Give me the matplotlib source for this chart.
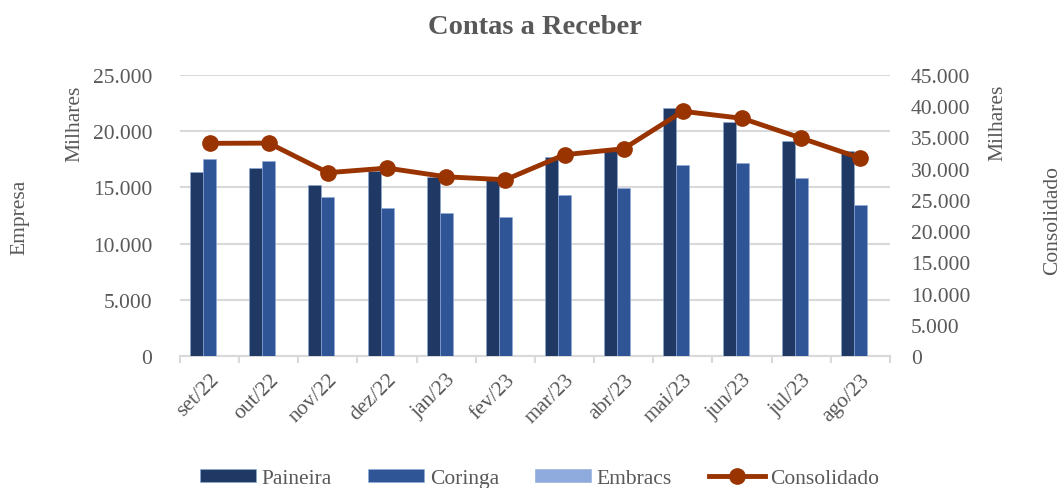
"""Contas a Receber: bars per company (left axis) and consolidated line (right axis)."""

import matplotlib

matplotlib.use("Agg")
import matplotlib.pyplot as plt
import numpy as np
from matplotlib.ticker import FuncFormatter

months = [
    "set/22", "out/22", "nov/22", "dez/22", "jan/23", "fev/23",
    "mar/23", "abr/23", "mai/23", "jun/23", "jul/23", "ago/23",
]
# values in thousands (Milhares)
paineira = [16350, 16750, 15190, 16500, 15900, 15690, 17730, 18200, 22090, 20790, 19100, 18200]
coringa = [17530, 17350, 14120, 13170, 12720, 12340, 14350, 14950, 17020, 17170, 15810, 13430]
embracs = [0, 0, 0, 0, 0, 0, 0, 0, 0, 0, 0, 0]
consolidado = [34060, 34100, 29360, 30100, 28700, 28230, 32240, 33200, 39190, 38070, 34900, 31700]

TEXT = "#595959"
GRID = "#D9D9D9"
COLORS = {"Paineira": "#1F3864", "Coringa": "#2F5597", "Embracs": "#8FAADC"}
LINE = "#993300"
FAMILY = ["Liberation Serif", "DejaVu Serif"]
SIZE = 15.5

plt.rcParams["font.family"] = FAMILY
plt.rcParams["font.size"] = SIZE


def thousands(value, _pos):
    return f"{value:,.0f}".replace(",", ".")


def main() -> None:
    fig = plt.figure(figsize=(10.62, 4.89), dpi=100)
    ax = fig.add_axes([0.1695, 0.2699, 0.6685, 0.5746])
    ax2 = ax.twinx()

    x = np.arange(len(months))
    width = 0.22
    series = [("Paineira", paineira), ("Coringa", coringa), ("Embracs", embracs)]
    for offset, (name, values) in zip((-1, 0, 1), series):
        ax.bar(x + offset * width, values, width, color=COLORS[name],
               edgecolor="#8FAADC", linewidth=0.4, label=name, zorder=3)

    ax2.plot(x, consolidado, color=LINE, linewidth=3.5, marker="o",
             markersize=11, label="Consolidado", zorder=4)

    ax.set_xlim(-0.5, len(months) - 0.5)
    ax.set_ylim(0, 25000)
    ax.set_yticks(np.arange(0, 25001, 5000))
    ax2.set_ylim(0, 45000)
    ax2.set_yticks(np.arange(0, 45001, 5000))
    ax.yaxis.set_major_formatter(FuncFormatter(thousands))
    ax2.yaxis.set_major_formatter(FuncFormatter(thousands))

    ax.set_xticks(x)
    ax.set_xticklabels(months, rotation=45, ha="right", rotation_mode="anchor")
    ax.set_xticks(np.arange(-0.5, len(months), 1.0), minor=True)
    ax.tick_params(axis="x", which="major", length=0, pad=10, colors=TEXT)
    ax.tick_params(axis="x", which="minor", length=5, color=GRID, width=1.5)
    ax.tick_params(axis="y", length=0, pad=20, colors=TEXT)
    ax2.tick_params(axis="y", length=0, pad=15, colors=TEXT)

    ax.grid(axis="y", color=GRID, linewidth=1.5, zorder=0)
    for spine in ("top", "left", "right"):
        ax.spines[spine].set_visible(False)
        ax2.spines[spine].set_visible(False)
    ax.spines["bottom"].set_color(GRID)
    ax.spines["bottom"].set_linewidth(1.5)
    ax2.spines["bottom"].set_visible(False)

    fig.text(0.0705, 0.746, "Milhares", rotation=90, ha="center", va="center", color=TEXT)
    fig.text(0.019, 0.556, "Empresa", rotation=90, ha="center", va="center", color=TEXT)
    fig.text(0.94, 0.748, "Milhares", rotation=90, ha="center", va="center", color=TEXT)
    fig.text(0.991, 0.55, "Consolidado", rotation=90, ha="center", va="center", color=TEXT)

    fig.text(0.504, 0.944, "Contas a Receber", ha="center", va="center",
             fontsize=20.5, fontweight="bold", color=TEXT)

    handles, labels = ax.get_legend_handles_labels()
    h2, l2 = ax2.get_legend_handles_labels()
    legend = fig.legend(handles + h2, labels + l2, loc="center", ncol=4,
                        bbox_to_anchor=(0.508, 0.02), frameon=False,
                        handlelength=2.6, handleheight=0.6, columnspacing=1.7,
                        handletextpad=0.25, labelcolor=TEXT)
    for text in legend.get_texts():
        text.set_fontfamily(FAMILY)
        text.set_fontsize(SIZE)

    fig.savefig("out.png", dpi=100)


if __name__ == "__main__":
    main()
